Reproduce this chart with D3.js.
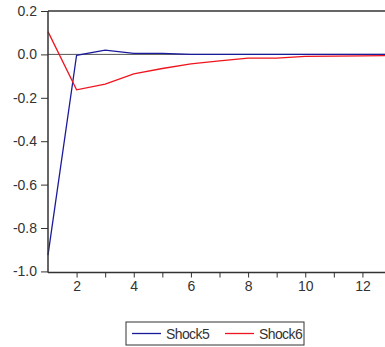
<!DOCTYPE html>
<html>
<head>
<meta charset="utf-8">
<script src="https://cdn.jsdelivr.net/npm/d3@7"></script>
<style>
  body { margin: 0; background: #fff; }
  svg text { font-family: "Liberation Sans", Arial, sans-serif; fill: #333; }
</style>
</head>
<body>
<div id="chart"></div>
<script>
// impulse responses by period
const periods = [1, 2, 3, 4, 5, 6, 7, 8, 9, 10, 11, 12, 13];
const shock5 = [-0.925, -0.004, 0.02, 0.005, 0.005, 0.0, 0.0, 0.0, 0.0, 0.0, 0.0, 0.0, 0.0];
const shock6 = [0.105, -0.163, -0.137, -0.09, -0.065, -0.044, -0.03, -0.017, -0.017, -0.009, -0.008, -0.007, -0.005];
const seriesNames = ['Shock5', 'Shock6'];
const seriesColors = ['#1a1a9c', '#f0141e'];
const yTicks = [0.2, 0.0, -0.2, -0.4, -0.6, -0.8, -1.0];
const xTicks = [1, 2, 3, 4, 5, 6, 7, 8, 9, 10, 11, 12, 13];

const width = 385, height = 347;
const margin = {top: 11, left: 48};
const plotBottom = 272.5;
const plotRight = 391;

const svg = d3.select('#chart').append('svg')
    .attr('width', width)
    .attr('height', height);

const x = d3.scaleLinear().domain([1, 13]).range([margin.left, plotRight]);
const y = d3.scaleLinear().domain([-1.005, 0.2]).range([plotBottom, margin.top]);

// zero line
svg.append('line')
    .attr('x1', x(1)).attr('x2', x(13))
    .attr('y1', y(0)).attr('y2', y(0))
    .attr('stroke', '#555').attr('stroke-width', 1);

// series
const series = [shock5, shock6];
const line = d3.line().x((d, i) => x(periods[i])).y(d => y(d));
series.forEach((s, k) => {
    svg.append('path')
        .datum(s)
        .attr('d', line)
        .attr('fill', 'none')
        .attr('stroke', seriesColors[k])
        .attr('stroke-width', 1.3);
});

// frame: top border
svg.append('line')
    .attr('x1', x(1)).attr('x2', plotRight)
    .attr('y1', y(0.2)).attr('y2', y(0.2))
    .attr('stroke', '#333').attr('stroke-width', 1.5);

// y axis, plain hyphen for negatives
const fmt = d => d3.format('.1f')(d).replace('\u2212', '-');
const yAxis = svg.append('g')
    .attr('transform', `translate(${margin.left},0)`)
    .call(d3.axisLeft(y).tickValues(yTicks).tickSize(7).tickPadding(4).tickFormat(fmt));
yAxis.select('.domain').attr('stroke', '#333').attr('stroke-width', 1.5)
    .attr('d', `M0,${margin.top}V${plotBottom}`);
yAxis.selectAll('.tick line').attr('stroke', '#333');
yAxis.selectAll('.tick text').attr('font-size', 14).attr('fill', '#333');

// x axis
const xAxis = svg.append('g')
    .attr('transform', `translate(0,${plotBottom})`)
    .call(d3.axisBottom(x).tickValues(xTicks).tickSize(5).tickPadding(4)
        .tickFormat(d => (d % 2 === 0 ? d : '')));
xAxis.select('.domain').attr('stroke', '#333').attr('stroke-width', 1.5)
    .attr('d', `M${margin.left},0H${plotRight}`);
xAxis.selectAll('.tick line').attr('stroke', '#333');
xAxis.selectAll('.tick').filter(d => d === 1).select('line').remove();
xAxis.selectAll('.tick text').attr('font-size', 14).attr('fill', '#333');

// legend
const legend = svg.append('g').attr('transform', 'translate(126,322)');
legend.append('rect')
    .attr('width', 178).attr('height', 23)
    .attr('fill', '#fff').attr('stroke', '#333').attr('stroke-width', 1);
const legendX = [6, 99];
seriesNames.forEach((name, k) => {
    const g = legend.append('g').attr('transform', `translate(${legendX[k]},0)`);
    g.append('line')
        .attr('x1', 0).attr('x2', 29).attr('y1', 11.5).attr('y2', 11.5)
        .attr('stroke', seriesColors[k]).attr('stroke-width', 1.3);
    g.append('text')
        .attr('x', 34).attr('y', 16.5)
        .attr('font-size', 14)
        .attr('letter-spacing', -0.6)
        .text(name);
});
</script>
</body>
</html>
